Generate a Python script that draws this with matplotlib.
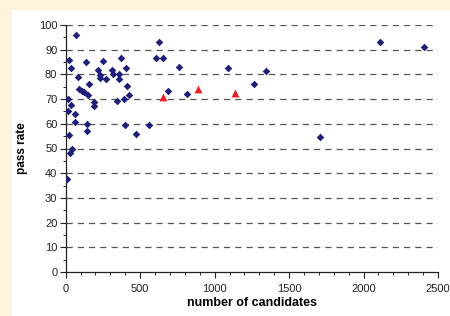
import matplotlib.pyplot as plt
from matplotlib.patches import Rectangle
from matplotlib.ticker import MultipleLocator

plt.rcParams['font.family'] = ['Liberation Sans', 'DejaVu Sans']

# blue diamonds
cand = [71, 24, 36, 83, 91, 109, 123, 150, 18, 134, 159, 217, 230, 232, 252,
        271, 311, 318, 369, 360, 360, 403, 412, 427, 389, 347, 192, 192, 18,
        38, 65, 65, 143, 143, 400, 472, 557, 20, 44, 27, 629, 606, 653, 759,
        687, 817, 1088, 1347, 1264, 2113, 2404, 1710, 11]
rate = [95.8, 85.8, 82.6, 79.1, 74.1, 73.4, 72.9, 71.8, 70.2, 85.0, 76.1,
        81.8, 79.8, 78.5, 85.4, 78.0, 81.8, 80.2, 86.5, 80.2, 78.0, 82.6,
        75.4, 71.5, 70.2, 69.1, 69.0, 67.2, 65.2, 67.7, 63.8, 60.9, 59.9,
        57.0, 59.5, 56.0, 59.5, 55.6, 49.8, 48.1, 93.0, 86.5, 86.5, 82.9,
        73.4, 72.2, 82.6, 81.5, 76.1, 93.0, 91.2, 54.5, 37.5]

# red triangles
cand_red = [653, 888, 1139]
rate_red = [71.0, 74.0, 72.6]

fig = plt.figure(figsize=(4.5, 3.16), dpi=100)
fig.patch.set_facecolor('#fdf2da')
fig.patches.append(Rectangle((12 / 450, 0), 1, 1 - 10 / 316, transform=fig.transFigure,
                             facecolor='white', edgecolor='none', zorder=-10))

ax = fig.add_axes([65.7 / 450, 1 - 272 / 316, (438 - 65.7) / 450, (272 - 25) / 316])
ax.set_facecolor('none')

ax.scatter(cand, rate, marker='D', s=15, color='#1f1f78', zorder=3, linewidths=0)
ax.scatter(cand_red, rate_red, marker='^', s=32, color='#f01c24', zorder=3, linewidths=0)

ax.set_xlim(0, 2500)
ax.set_ylim(0, 100)
ax.xaxis.set_major_locator(MultipleLocator(500))
ax.xaxis.set_minor_locator(MultipleLocator(100))
ax.yaxis.set_major_locator(MultipleLocator(10))
ax.yaxis.set_minor_locator(MultipleLocator(5))

for y in range(10, 101, 10):
    ax.axhline(y, color='#555555', lw=0.9, ls=(0, (5, 4)), zorder=1)

for s in ['top', 'right']:
    ax.spines[s].set_visible(False)
for s in ['left', 'bottom']:
    ax.spines[s].set_color('#222222')
    ax.spines[s].set_linewidth(0.9)

ax.tick_params(which='major', length=4, width=0.8, color='#222222',
               labelsize=8, labelcolor='#222222', pad=2)
ax.tick_params(which='minor', length=2.5, width=0.7, color='#222222')
ax.tick_params(axis='x', pad=5)

ax.set_xlabel('number of candidates', fontsize=9, fontweight='bold')
ax.set_ylabel('pass rate', fontsize=8.5, fontweight='bold')
ax.xaxis.set_label_coords(0.5, -0.1)
ax.yaxis.set_label_coords(-0.1, 0.5)

fig.savefig('out.png', dpi=100, facecolor=fig.get_facecolor())
